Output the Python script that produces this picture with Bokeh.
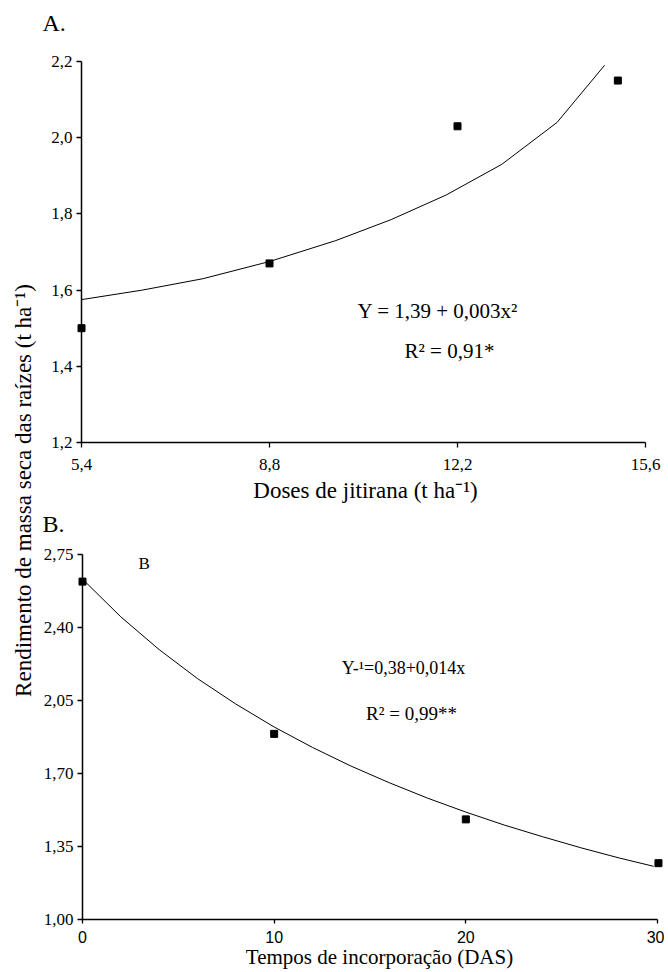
from math import pi
from bokeh.plotting import figure
from bokeh.models import Range1d, Label, FixedTicker, LinearAxis
from bokeh.embed import file_html
from bokeh.resources import INLINE

SERIF = "Liberation Serif"
SANS = "Liberation Sans"

# ---------------- Panel A data ----------------
a_x_ticks = [5.4, 8.8, 12.2, 15.6]
a_x_tick_labels = ["5,4", "8,8", "12,2", "15,6"]
a_y_ticks = [1.2, 1.4, 1.6, 1.8, 2.0, 2.2]
a_y_tick_labels = ["1,2", "1,4", "1,6", "1,8", "2,0", "2,2"]
a_dose = [5.4, 8.8, 12.2, 15.1]
a_yield = [1.50, 1.67, 2.03, 2.15]
a_curve_x = [5.4, 6.5, 7.6, 8.8, 10.0, 11.0, 12.0, 13.0, 14.0, 14.86]
a_curve_y = [1.575, 1.60, 1.63, 1.675, 1.73, 1.785, 1.85, 1.93, 2.04, 2.19]

# ---------------- Panel B data ----------------
b_x_ticks = [0, 10, 20, 30]
b_x_tick_labels = ["0", "10", "20", "30"]
b_y_ticks = [1.0, 1.35, 1.70, 2.05, 2.40, 2.75]
b_y_tick_labels = ["1,00", "1,35", "1,70", "2,05", "2,40", "2,75"]
b_time = [0, 10, 20, 30.05]
b_yield = [2.62, 1.89, 1.48, 1.27]
b_curve_x = [0, 2, 4, 6, 8, 10, 12, 14, 16, 18, 20, 22, 24, 26, 28, 29.8]
b_curve_y = [2.632, 2.451, 2.294, 2.155, 2.033, 1.923, 1.825, 1.736, 1.656,
             1.582, 1.515, 1.453, 1.397, 1.344, 1.295, 1.255]

# ---------------- layout geometry (page pixels) ----------------
W, H = 664, 969
ORIG = 1  # where the canvas starts on the page


def x_map(v0, p0, v1, p1):
    s = (p1 - p0) / (v1 - v0)
    start = v0 - (p0 - ORIG) / s
    return start, start + W / s, s


def y_map(v0, p0, v1, p1):
    # v0 is the upper value at pixel row p0
    s = (p1 - p0) / (v0 - v1)
    top = v0 + (p0 - ORIG) / s
    return top - H / s, top, s


ax0, ax1, asx = x_map(a_x_ticks[0], 82, a_x_ticks[-1], 646)
ay0, ay1, asy = y_map(a_y_ticks[-1], 62, a_y_ticks[0], 443)
bx0, bx1, bsx = x_map(b_x_ticks[0], 83, b_x_ticks[-1], 658)
by0, by1, bsy = y_map(b_y_ticks[-1], 555, b_y_ticks[0], 920)


def ax_px(px):
    return ax0 + (px - ORIG) / asx


def ay_px(py):
    return ay1 - (py - ORIG) / asy


def bx_px(px):
    return bx0 + (px - ORIG) / bsx


def by_px(py):
    return by1 - (py - ORIG) / bsy


p = figure(width=W, height=H, output_backend="svg", toolbar_location=None,
           title=None, x_range=Range1d(ax0, ax1), y_range=Range1d(ay0, ay1),
           x_axis_type=None, y_axis_type=None,
           min_border_left=0, min_border_right=0, min_border_top=0,
           min_border_bottom=0)
p.extra_x_ranges = {"bx": Range1d(bx0, bx1)}
p.extra_y_ranges = {"by": Range1d(by0, by1)}
p.grid.visible = False
p.outline_line_color = None


def make_axis(ticks, labels, loc, bounds, font, size, tick_out, standoff, **kw):
    axis = LinearAxis(ticker=FixedTicker(ticks=ticks),
                      major_label_overrides=dict(zip(ticks, labels)),
                      fixed_location=loc, bounds=bounds, **kw)
    axis.axis_line_color = "black"
    axis.axis_line_width = 1.5
    axis.major_tick_line_color = "black"
    axis.major_tick_line_width = 1.3
    axis.major_tick_in = 0
    axis.major_tick_out = tick_out
    axis.minor_tick_line_color = None
    axis.major_label_text_color = "black"
    axis.major_label_text_font = font
    axis.major_label_text_font_size = size
    axis.major_label_standoff = standoff
    return axis


# Panel A axes
p.add_layout(make_axis(a_x_ticks, a_x_tick_labels, a_y_ticks[0],
                       (a_x_ticks[0], a_x_ticks[-1]), SERIF, "17px", 5, 11), "below")
p.add_layout(make_axis(a_y_ticks, a_y_tick_labels, a_x_ticks[0],
                       (a_y_ticks[0], a_y_ticks[-1]), SERIF, "17px", 5, 4), "left")
# Panel B axes
p.add_layout(make_axis(b_x_ticks, b_x_tick_labels, b_y_ticks[0],
                       (b_x_ticks[0], b_x_ticks[-1]), SANS, "16px", 4, 7,
                       x_range_name="bx", y_range_name="by"), "below")
p.add_layout(make_axis(b_y_ticks, b_y_tick_labels, b_x_ticks[0],
                       (b_y_ticks[0], b_y_ticks[-1]), SERIF, "17px", 5, 4,
                       x_range_name="bx", y_range_name="by"), "left")

# Panel A marks
p.line(a_curve_x, a_curve_y, line_color="black", line_width=1)
p.scatter(a_dose, a_yield, marker="square", size=7, color="black")

# Panel B marks
p.line(b_curve_x, b_curve_y, line_color="black", line_width=1,
       x_range_name="bx", y_range_name="by")
p.scatter(b_time, b_yield, marker="square", size=7, color="black",
          x_range_name="bx", y_range_name="by")


def txt(text, x, y, size, align="center", baseline="alphabetic", font=SERIF,
        angle=0.0, **kw):
    p.add_layout(Label(x=x, y=y, text=text, text_font=font, text_font_size=size,
                       text_align=align, text_baseline=baseline,
                       text_color="black", angle=angle, **kw))


# Panel A texts (anchors at the visual centre line of each text)
txt("A.", ax_px(43), ay_px(23), "24px", align="left")
txt("Y  = 1,39 + 0,003x²", ax_px(441), ay_px(311.5), "21px")
txt("R² = 0,91*", ax_px(450), ay_px(351.5), "21px")
txt("Doses de jitirana (t ha⁻¹)", ax_px(366), ay_px(491), "23px")

# Panel B texts
txt("B.", ax_px(43), ay_px(524), "24px", align="left")
txt("B", bx_px(139), by_px(564), "17px", align="left",
    x_range_name="bx", y_range_name="by")
txt("Y-¹=0,38+0,014x", bx_px(404), by_px(668), "18px",
    x_range_name="bx", y_range_name="by")
txt("R² = 0,99**", bx_px(412), by_px(713.5), "19px",
    x_range_name="bx", y_range_name="by")
txt("Tempos de incorporação (DAS)", bx_px(380), by_px(957), "21px",
    x_range_name="bx", y_range_name="by")

# shared y label
txt("Rendimento de massa seca das raízes (t ha⁻¹)", ax_px(24), ay_px(491),
    "23px", baseline="middle", angle=pi / 2)

open("out.html", "w").write(file_html(p, INLINE))
